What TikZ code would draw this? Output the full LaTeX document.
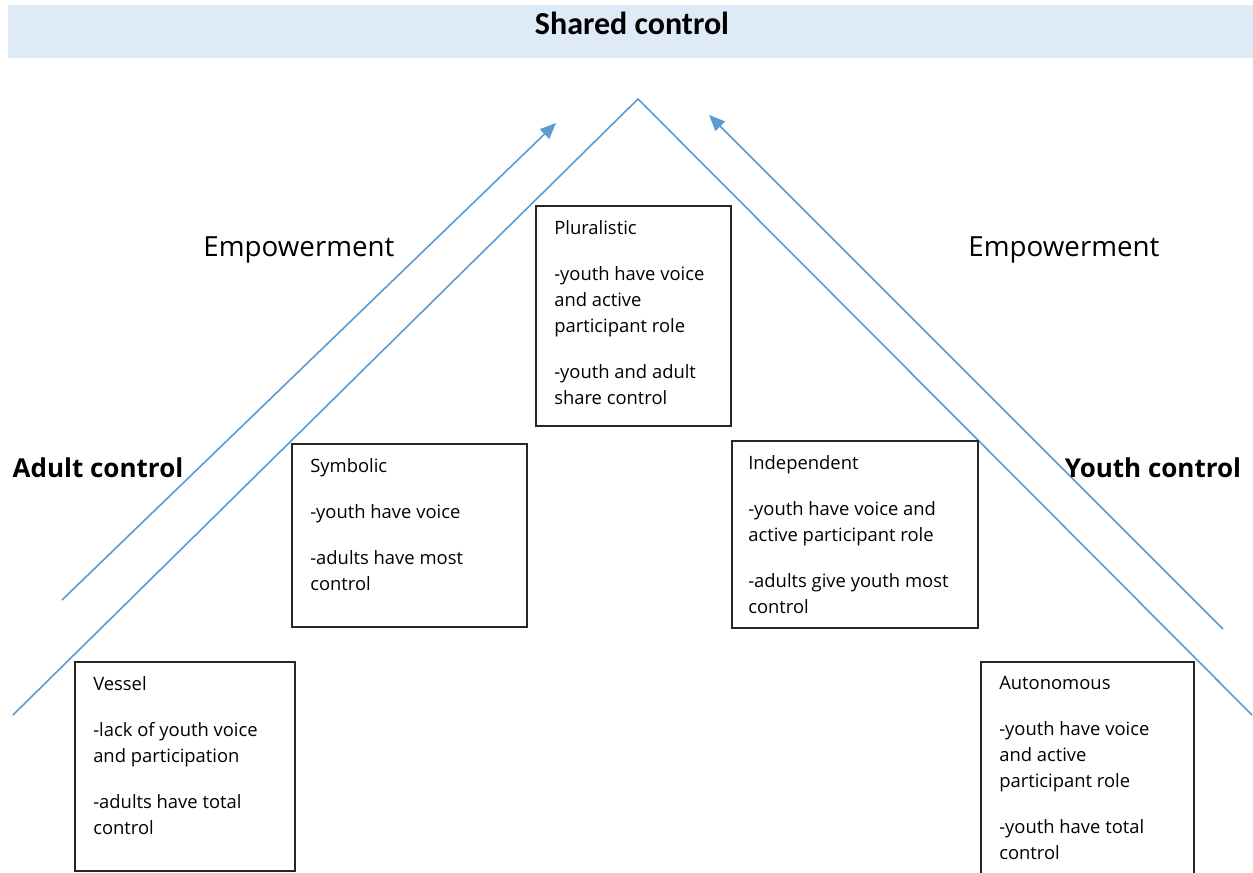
\documentclass[tikz,border=0pt]{standalone}
\usepackage{fontspec}
\setmainfont{Open Sans}
\newfontfamily\headfont{Carlito}
\usetikzlibrary{positioning,arrows.meta}

\definecolor{lineblue}{HTML}{5B9BD5}
\definecolor{bandblue}{HTML}{DEEAF6}
\definecolor{boxgray}{HTML}{262626}

\tikzset{
  stage/.style={draw=boxgray, line width=1.2pt, inner sep=0pt, anchor=north west},
  stagetext/.style={anchor=north west, align=left, inner sep=0pt,
    font=\fontsize{13.8}{19.5}\selectfont},
  ridge/.style={lineblue, line width=1.2pt},
  empower/.style={lineblue, line width=1.2pt, -{Triangle[length=12pt,width=10pt]}},
  side/.style={anchor=base, inner sep=0pt, font=\fontsize{20.8}{24}\selectfont},
  control/.style={anchor=base, inner sep=0pt, font=\bfseries\fontsize{19.5}{22}\selectfont},
}

\begin{document}
\begin{tikzpicture}[x=0.75pt, y=-0.75pt]
\useasboundingbox (0,0) rectangle (1253,873);

% band on top
\fill[bandblue] (8,5) rectangle (1253,58);
\node[anchor=base, inner sep=0pt, font=\headfont\bfseries\fontsize{24}{26}\selectfont] (shared) at (632,35) {Shared control};

% the roof and the two arrows
\coordinate (leftfoot) at (13,715);
\coordinate (apex) at (638,99);
\coordinate (rightfoot) at (1252,715);
\draw[ridge] (leftfoot) -- (apex) -- (rightfoot);

\coordinate (adultstart) at (62,600);
\coordinate (adulttip) at (556,123);
\coordinate (youthstart) at (1223,629);
\coordinate (youthtip) at (709,115);
\draw[empower] (adultstart) -- (adulttip);
\draw[empower] (youthstart) -- (youthtip);

\node[side] (empleft) at (299,257) {Empowerment};
\node[side] (empright) at (1064,257) {Empowerment};
\node[control] (adult) at (98,477) {Adult control};
\node[control] (youth) at (1153,477) {Youth control};

% stages
\node[stage, minimum width=146.25pt, minimum height=165pt] (plur) at (535,205) {};
\node[stagetext] (plurtext) at ([shift={(19,15)}]plur.north west)
  {Pluralistic\\[15pt]-youth have voice\\and active\\participant role\\[15pt]-youth and adult\\share control};

\node[stage, minimum width=176.25pt, minimum height=137.25pt] (symb) at (291,443) {};
\node[stagetext] (symbtext) at ([shift={(19,15)}]symb.north west)
  {Symbolic\\[15pt]-youth have voice\\[15pt]-adults have most\\control};

\node[stage, minimum width=184.5pt, minimum height=140.25pt] (indep) at (731,440) {};
\node[stagetext] (indeptext) at ([shift={(17,15)}]indep.north west)
  {Independent\\[15pt]-youth have voice and\\active participant role\\[15pt]-adults give youth most\\control};

\node[stage, minimum width=165pt, minimum height=156.75pt] (vessel) at (74,661) {};
\node[stagetext] (vesseltext) at ([shift={(19,15)}]vessel.north west)
  {Vessel\\[15pt]-lack of youth voice\\and participation\\[15pt]-adults have total\\control};

\node[stage, minimum width=159.75pt, minimum height=165pt] (auton) at (980,661) {};
\node[stagetext] (autontext) at ([shift={(19,15)}]auton.north west)
  {Autonomous\\[15pt]-youth have voice\\and active\\participant role\\[15pt]-youth have total\\control};

\end{tikzpicture}
\end{document}
